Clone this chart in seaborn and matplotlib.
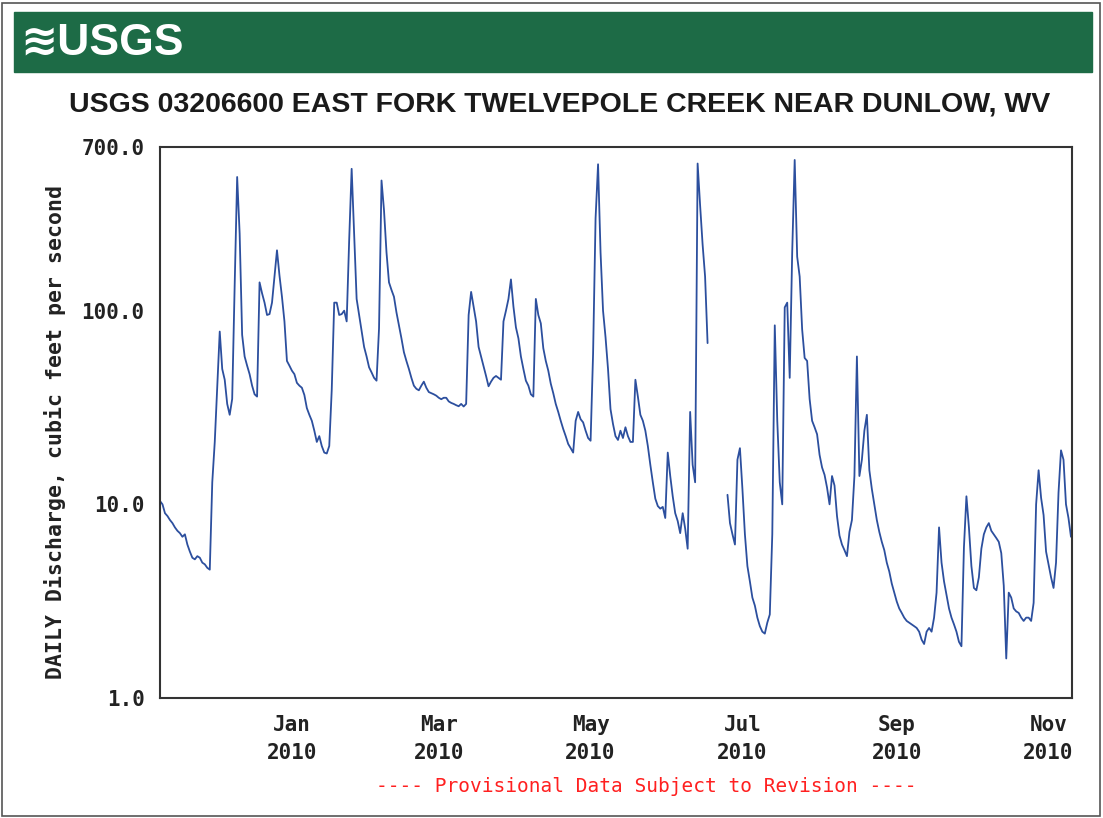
import matplotlib
matplotlib.use('Agg')
import matplotlib.pyplot as plt
from matplotlib.patches import Rectangle
from matplotlib.ticker import NullLocator
import seaborn as sns
import numpy as np
import pandas as pd

# daily mean discharge (cfs), one value per day starting 2009-11-09, NaN = missing
start_date = '2009-11-09'
discharge = [
    10.4, 10.0, 9.0, 8.7, 8.3, 8.0, 7.6, 7.3, 7.1, 6.8, 7.0, 6.2, 5.7, 5.3, 5.2, 5.4, 5.3, 5.0, 4.9, 4.7, 4.6,
    13, 21, 40, 78, 50, 44, 33, 29, 35, 135, 490, 250, 75, 58, 52, 47, 41, 37, 36, 140,
    123, 110, 95, 96, 110, 150, 205, 152, 118, 88, 55, 52, 49, 47, 42.4, 41, 40, 36.7, 31.4, 29,
    27, 24, 21, 22.5, 20, 18.5, 18.3, 20, 39, 110, 110, 95, 96, 100, 88, 230, 540, 250, 115, 95,
    78, 65, 58, 51, 48, 45, 43.5, 81, 470, 330, 200, 140, 128, 118, 98, 84, 72, 61, 55, 50,
    45, 41, 39.5, 38.8, 41, 43, 40, 38, 37.5, 37, 36.4, 35.5, 34.9, 35.5, 35.5, 34, 33.4, 33, 32.5, 32.1,
    33, 32, 33, 95, 125, 105, 88, 65, 58, 52, 46, 40.7, 43, 45, 46, 45, 44, 88, 100, 115,
    145, 105, 82, 72, 58, 50, 43.5, 41, 37, 36, 115, 95, 86, 64, 55, 49, 42, 37.5, 33, 30,
    27, 24.5, 22.5, 20.5, 19.5, 18.5, 27, 30, 27.5, 26.5, 24, 22, 21.3, 60, 300, 570, 200, 100, 73, 50,
    31, 26, 22.5, 21.5, 24, 22, 25, 22.5, 21, 21, 44, 36, 29, 27, 24, 20, 16, 13, 10.7, 9.8,
    9.5, 9.7, 8.5, 18.5, 14, 11, 9, 8.2, 7.1, 9.0, 7.5, 5.9, 30, 16, 13, 575, 350, 220, 150, 68,
    np.nan, np.nan, np.nan, np.nan, np.nan, np.nan, np.nan,
    11.2, 8.0, 7.0, 6.2, 17, 19.5, 12, 7.0, 4.8, 4.0, 3.3, 3.0, 2.6, 2.35,
    2.2, 2.15, 2.45, 2.7, 7, 84, 27, 13, 10, 104, 110, 45, 200, 600, 190, 150, 80, 57, 55, 35,
    27, 25, 23, 18, 15.5, 14.2, 12.2, 10, 14, 12.5, 8.7, 6.9, 6.2, 5.8, 5.4, 7.2, 8.3, 14, 58, 14,
    17, 24, 29, 15, 12, 10, 8.3, 7.2, 6.4, 5.8, 5.0, 4.5, 3.9, 3.5, 3.15, 2.9, 2.75, 2.6, 2.5, 2.45,
    2.4, 2.35, 2.3, 2.2, 2.0, 1.9, 2.2, 2.3, 2.2, 2.6, 3.5, 7.6, 5.0, 4.0, 3.4, 2.9, 2.6, 2.4, 2.2, 1.95,
    1.85, 6, 11, 7.6, 4.8, 3.7, 3.6, 4.2, 5.9, 7.0, 7.6, 8.0, 7.3, 7.0, 6.7, 6.4, 5.6, 3.8, 1.6, 3.5,
    3.3, 2.9, 2.8, 2.75, 2.6, 2.5, 2.6, 2.6, 2.5, 3.1, 10, 15, 10.8, 8.8, 5.7, 4.9, 4.2, 3.7, 5.0, 11.5,
    19, 17, 10, 8.5, 6.8,
]

x_tick_dates = ['2010-01-01', '2010-03-01', '2010-05-01', '2010-07-01', '2010-09-01', '2010-11-01']
x_tick_labels = ['Jan\n2010', 'Mar\n2010', 'May\n2010', 'Jul\n2010', 'Sep\n2010', 'Nov\n2010']
y_ticks = [1, 10, 100, 700]
y_tick_labels = ['1.0', '10.0', '100.0', '700.0']

title = 'USGS 03206600 EAST FORK TWELVEPOLE CREEK NEAR DUNLOW, WV'
ylabel = 'DAILY Discharge, cubic feet per second'
footer = '---- Provisional Data Subject to Revision ----'

dates = pd.date_range(start_date, periods=len(discharge), freq='D')
df = pd.DataFrame({'date': dates, 'discharge': discharge})
# break the line at the missing days
df['segment'] = df['discharge'].isna().cumsum()
df = df.dropna()

sns.set_style('white')
plt.rcParams['font.family'] = ['DejaVu Sans']
mono = ['DejaVu Sans Mono']
sans = ['Liberation Sans', 'DejaVu Sans']

W, H = 1103, 818
fig = plt.figure(figsize=(W / 100, H / 100), dpi=100)
ax = fig.add_axes([160 / W, 1 - 698 / H, 912 / W, 551 / H])

sns.lineplot(data=df, x='date', y='discharge', units='segment', estimator=None,
             color='#2c4f9e', lw=1.3, ax=ax)

ax.set_yscale('log')
ax.set_ylim(1, 700)
ax.set_yticks(y_ticks)
ax.set_yticklabels(y_tick_labels)
ax.yaxis.set_minor_locator(NullLocator())
ax.set_xlim(pd.Timestamp(start_date), pd.Timestamp('2010-11-10 10:00'))
ax.set_xticks(pd.to_datetime(x_tick_dates))
ax.set_xticklabels(x_tick_labels, linespacing=1.5)
ax.set_xlabel('')
ax.set_ylabel('')
ax.tick_params(axis='both', length=0, labelsize=15, colors='#222222')
ax.tick_params(axis='y', pad=11)
ax.tick_params(axis='x', pad=12)
for lab in ax.get_xticklabels() + ax.get_yticklabels():
    lab.set_family(mono)
    lab.set_fontweight('bold')
for sp in ax.spines.values():
    sp.set_visible(True)
    sp.set_color('#333333')
    sp.set_linewidth(1.5)

# header banner
fig.patches.append(Rectangle((14 / W, 1 - 72 / H), (1092 - 14) / W, 60 / H,
                             transform=fig.transFigure, color='#1d6b46', zorder=0))
fig.text(20 / W, 1 - 43 / H, '\u224bUSGS', color='white', fontsize=32, fontweight='bold',
         va='center', ha='left', family=sans)
fig.text(560 / W, 1 - 104 / H, title, ha='center', va='center', fontsize=20.5,
         fontweight='bold', color='#1a1a1a', family=sans)
fig.text(55 / W, 1 - 432 / H, ylabel, rotation=90, ha='center', va='center',
         fontsize=15.5, fontweight='bold', color='#222222', family=mono)
fig.text(646 / W, 1 - 787 / H, footer, ha='center', va='center', fontsize=14,
         color='#ff2020', family=mono)

# scanned page border
fig.patches.append(Rectangle((2 / W, 2 / H), (W - 5) / W, (H - 5) / H, fill=False,
                             transform=fig.transFigure, ec='#555555', lw=1.2))

fig.savefig('out.png', dpi=100)
